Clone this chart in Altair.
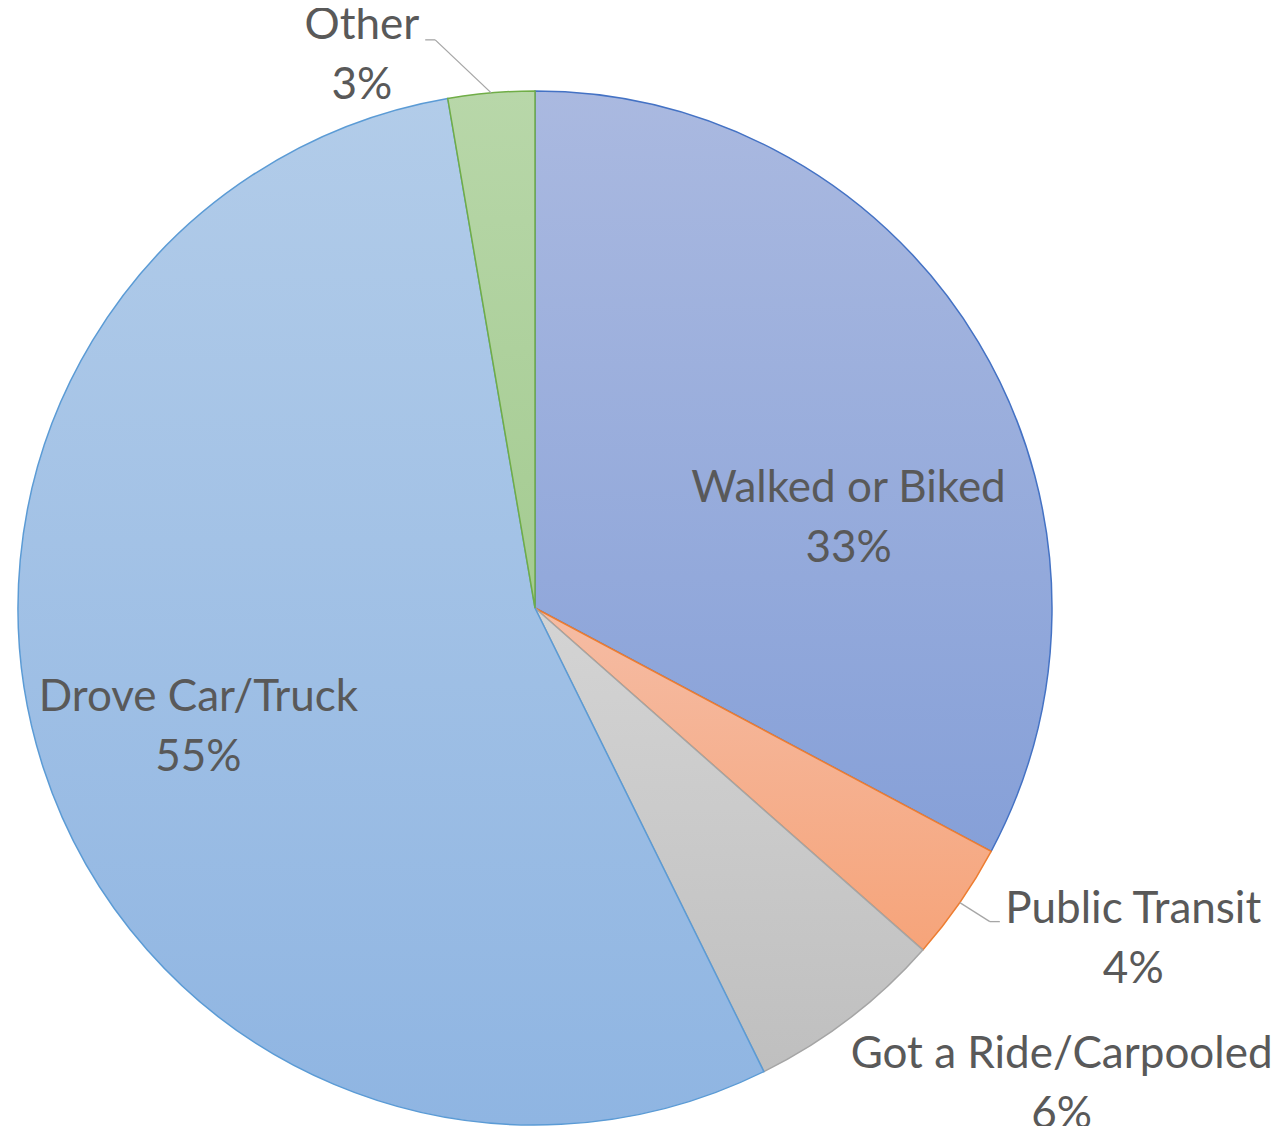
import math
import altair as alt
import pandas as pd

# ---- data ----
categories = ["Walked or Biked", "Public Transit", "Got a Ride/Carpooled", "Drove Car/Truck", "Other"]
values = [32.8, 3.7, 6.2, 54.6, 2.7]

# ---- styles ----
fill_top = ["#AAB9E0", "#F5BCA4", "#D4D4D4", "#B2CCE9", "#B8D7A9"]
fill_bottom = ["#86A0D8", "#F6A47A", "#BFBFBF", "#8FB5E2", "#A4CB91"]
stroke_colors = ["#4472C4", "#ED7D31", "#A5A5A5", "#5B9BD5", "#70AD47"]

FONT = "Lato"
FS = 44
TEXT = "#595959"
LEADER = "#A6A6A6"

total = sum(values)
df = pd.DataFrame({
    "category": categories,
    "value": values,
    "order": list(range(len(categories))),
})

W, H = 1054, 1036
R = 517
cx, cy = W / 2, H / 2

theta_scale = alt.Scale(domain=[0, total], range=[0, 2 * math.pi])

base = alt.Chart(df).transform_window(
    cum="sum(value)",
    sort=[alt.SortField("order", order="ascending")],
    frame=[None, 0],
).transform_calculate(
    start="datum.cum - datum.value",
    mid="datum.cum - datum.value / 2",
    pct=f"format(datum.value / {total}, '.0%')",
)

layers = []
for cat, ft, fb, sc in zip(categories, fill_top, fill_bottom, stroke_colors):
    grad = alt.Gradient(
        gradient="linear",
        stops=[alt.GradientStop(color=ft, offset=0), alt.GradientStop(color=fb, offset=1)],
        x1=0, x2=0, y1=0, y2=1,
    )
    layers.append(
        base.transform_filter(alt.datum.category == cat)
        .mark_arc(radius=R, fill=grad, stroke=sc, strokeWidth=1.5)
        .encode(theta=alt.Theta("start:Q", scale=theta_scale), theta2="cum:Q")
    )

# leader lines: (category, elbow offset, end offset)
leaders = [
    ("Other", (-56, -53), (-66, -53)),
    ("Public Transit", (30, 19), (40, 19)),
]
for cat, (ox, oy), (ex, ey) in leaders:
    lb = base.transform_filter(alt.datum.category == cat).transform_calculate(
        ax=f"{cx} + {R} * sin(2 * PI * datum.mid / {total})",
        ay=f"{cy} - {R} * cos(2 * PI * datum.mid / {total})",
    ).transform_calculate(
        bx=f"datum.ax + ({ox})",
        by=f"datum.ay + ({oy})",
        ex=f"datum.ax + ({ex})",
        ey=f"datum.ay + ({ey})",
    )
    layers.append(
        lb.mark_rule(color=LEADER, strokeWidth=1.3).encode(
            x=alt.X("ax:Q", scale=None, axis=None),
            y=alt.Y("ay:Q", scale=None, axis=None),
            x2="bx:Q", y2="by:Q",
        )
    )
    layers.append(
        lb.mark_rule(color=LEADER, strokeWidth=1.3).encode(
            x=alt.X("bx:Q", scale=None, axis=None),
            y=alt.Y("by:Q", scale=None, axis=None),
            x2="ex:Q", y2="ey:Q",
        )
    )

# labels: (category, radius, dx, dy of block center)
label_pos = [
    ("Walked or Biked", 326, 34, 79),
    ("Public Transit", 683, 37, -57),
    ("Got a Ride/Carpooled", 710, 95, -87),
    ("Drove Car/Truck", 357, 3, 10),
    ("Other", 579, -124, 25),
]
for cat, r, dx, dy in label_pos:
    lb = base.transform_filter(alt.datum.category == cat)
    for field, off in (("category", -30), ("pct", 30)):
        layers.append(
            lb.mark_text(
                radius=r, dx=dx, dy=dy + off, font=FONT, fontSize=FS, color=TEXT,
                align="center", baseline="middle",
            ).encode(theta=alt.Theta("mid:Q", scale=theta_scale), text=f"{field}:N")
        )

chart = alt.layer(*layers).properties(
    width=W, height=H,
    autosize=alt.AutoSizeParams(type="none"),
    padding={"left": 0, "top": 82, "right": 214, "bottom": 0},
).configure_view(stroke=None)

chart.save("out.html", embed_options={"renderer": "svg", "actions": False})
